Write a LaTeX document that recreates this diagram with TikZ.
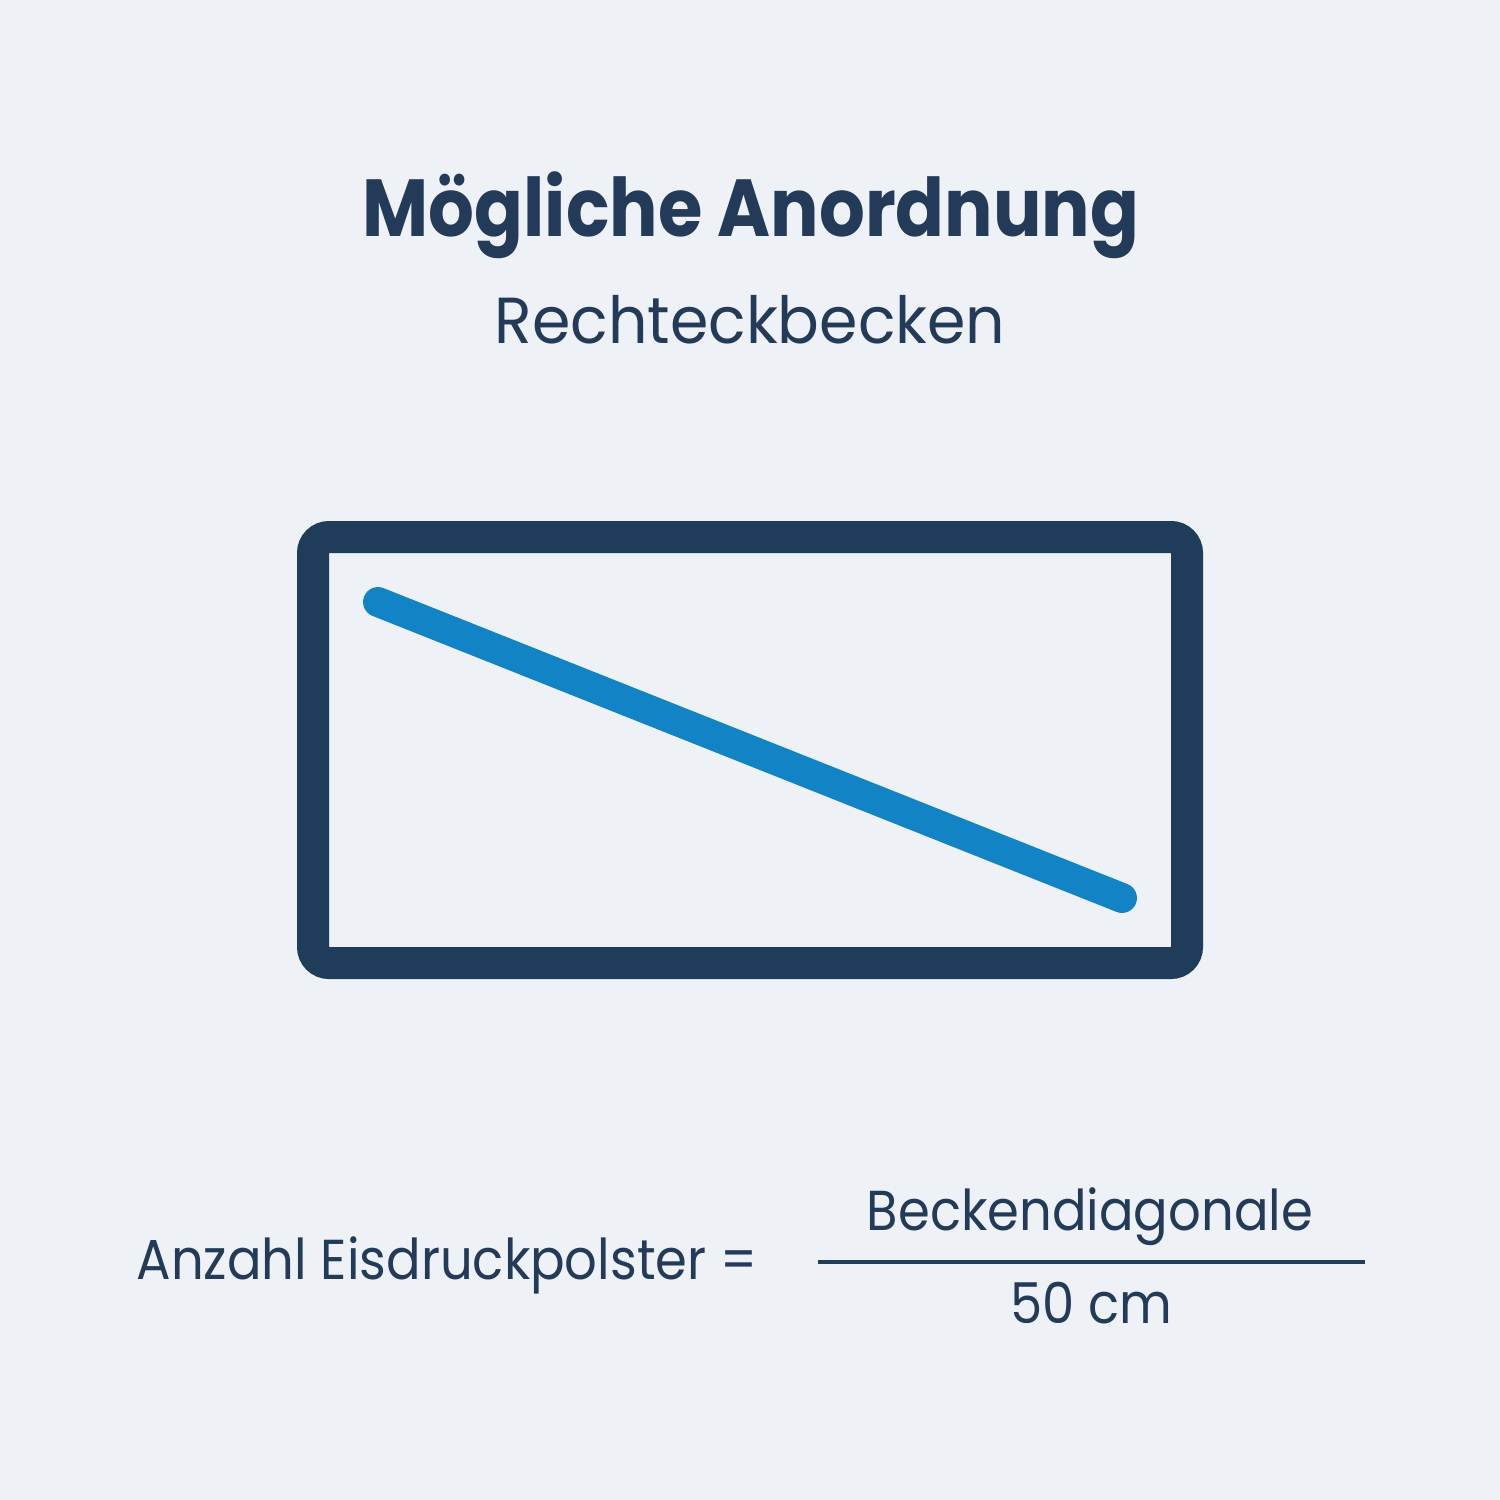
\documentclass[tikz,border=0pt]{standalone}
\usepackage{fontspec}
\setmainfont{Poppins}
\newfontfamily\titlefont[FakeStretch=0.89]{Poppins}
\newfontfamily\subfont[FakeStretch=0.95]{Poppins}
\newfontfamily\eqfont[FakeStretch=0.91]{Poppins}
\definecolor{bg}{HTML}{EEF1F6}
\definecolor{navy}{HTML}{1F3D5B}
\definecolor{txt}{HTML}{243A59}
\definecolor{pipe}{HTML}{1283C4}
\begin{document}
\begin{tikzpicture}[x=0.01cm,y=-0.01cm,
  label/.style={text=txt,inner sep=0pt,anchor=base},
  frame/.style={draw=navy,line width=9.1pt,rounded corners=0.16cm},
  pipeline/.style={draw=pipe,line width=8.5pt,line cap=round}]
\fill[bg] (0,0) rectangle (1500,1500);
\useasboundingbox (0,0) rectangle (1500,1500);
\node[label,font=\titlefont\fontsize{23}{28}\selectfont\bfseries] (title) at (751,236) {Mögliche Anordnung};
\node[label,font=\subfont\fontsize{18.5}{22}\selectfont] (sub) at (750,343) {Rechteckbecken};
\draw[frame] (313,537) rectangle (1187,963);
\coordinate (p1) at (378,602);
\coordinate (p2) at (1122,898);
\draw[pipeline] (p1) -- (p2);
\node[label,font=\eqfont\fontsize{16}{20}\selectfont] (lhs) at (447,1279) {Anzahl Eisdruckpolster =};
\node[label,font=\eqfont\fontsize{16}{20}\selectfont] (num) at (1090,1230) {Beckendiagonale};
\node[label,font=\eqfont\fontsize{16}{20}\selectfont] (den) at (1091,1323) {50 cm};
\coordinate (fl) at (818,1262);
\coordinate (fr) at (1365,1262);
\draw[navy,line width=0.9pt] (fl) -- (fr);
\end{tikzpicture}
\end{document}
